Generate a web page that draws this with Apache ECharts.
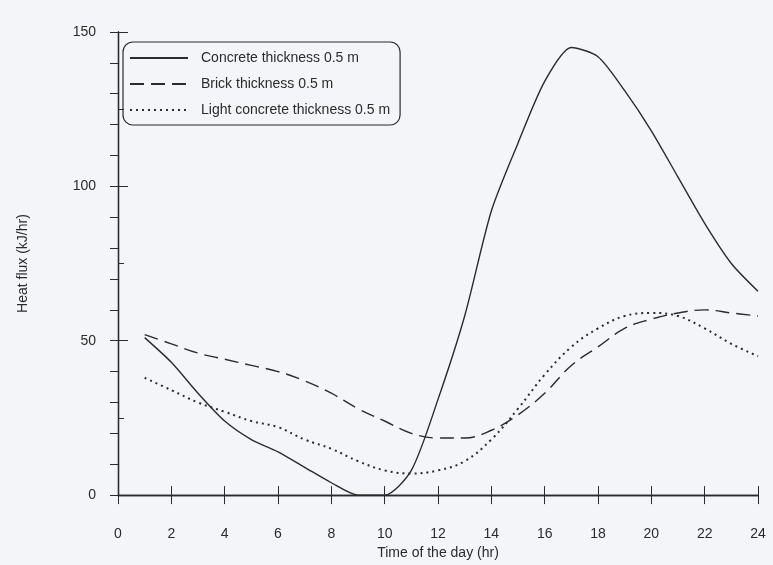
<!DOCTYPE html>
<html>
<head>
<meta charset="utf-8">
<script src="https://cdn.jsdelivr.net/npm/echarts@6/dist/echarts.min.js"></script>
<style>
  html, body { margin: 0; padding: 0; background: #f3f5f8; }
  #chart { width: 773px; height: 565px; }
</style>
</head>
<body>
<div id="chart"></div>
<script>
// hours of the day
var hours = [1, 2, 3, 4, 5, 6, 7, 8, 9, 10, 11, 12, 13, 14, 15, 16, 17, 18, 19, 20, 21, 22, 23, 24];
// heat flux (kJ/hr)
var concrete = [51, 43, 33, 24, 18, 14, 9, 4, 0, 0, 8, 31, 58, 92, 114, 134, 145, 142, 131, 118, 103, 88, 75, 66];
var brick = [52, 49, 46, 44, 42, 40, 37, 33, 28, 24, 20, 18.5, 18.5, 21, 26, 33, 42, 48, 54, 57, 59, 60, 59, 58];
var lightConcrete = [38, 34, 30, 27, 24, 22, 18, 15, 11, 8, 7, 8, 11, 18, 28, 39, 48, 54, 58, 59, 58, 54, 49, 45];

var xTicks = [0, 24, 2];
var yTicks = [0, 150, 50];

function pairs(vals) {
	return hours.map(function (h, i) { return [h, vals[i]]; });
}

var ink = '#2b2b2b';
var font = 'Liberation Sans';

var chart = echarts.init(document.getElementById('chart'));
chart.setOption({
	backgroundColor: '#f3f5f8',
	animation: false,
	textStyle: { fontFamily: font, color: ink },
	grid: { left: 118, right: 15, top: 32, bottom: 65 },
	legend: {
		left: 123,
		top: 42,
		orient: 'vertical',
		itemWidth: 58,
		itemHeight: 10,
		itemGap: 12,
		padding: [9, 10, 8, 6],
		borderColor: ink,
		borderWidth: 1.2,
		borderRadius: 10,
		itemStyle: { opacity: 0 },
		textStyle: { fontSize: 14, color: ink, fontFamily: font, padding: [0, 0, 0, 8] },
		data: ['Concrete thickness 0.5 m', 'Brick thickness 0.5 m', 'Light concrete thickness 0.5 m']
	},
	xAxis: [{
		type: 'value',
		min: xTicks[0], max: xTicks[1], interval: xTicks[2],
		name: 'Time of the day (hr)',
		nameLocation: 'middle',
		nameGap: 44,
		nameTextStyle: { fontSize: 14, color: ink },
		axisLine: { lineStyle: { color: ink, width: 1.3 } },
		axisTick: { inside: true, length: 9, lineStyle: { color: ink } },
		axisLabel: { fontSize: 14, color: ink, margin: 32 },
		splitLine: { show: false }
	}, {
		type: 'value',
		position: 'top',
		min: xTicks[0], max: xTicks[1], interval: xTicks[2],
		axisLine: { show: true, lineStyle: { color: ink, width: 1.3 } },
		axisTick: { inside: true, length: 9, lineStyle: { color: ink } },
		axisLabel: { show: false },
		splitLine: { show: false }
	}],
	yAxis: [{
		type: 'value',
		min: yTicks[0], max: yTicks[1], interval: yTicks[2],
		name: 'Heat flux (kJ/hr)',
		nameLocation: 'middle',
		nameGap: 88,
		nameTextStyle: { fontSize: 14, color: ink },
		axisLine: { show: true, lineStyle: { color: ink, width: 1.3 } },
		axisTick: { inside: true, length: 10, lineStyle: { color: ink } },
		minorTick: { show: true, splitNumber: 2, length: 6, lineStyle: { color: ink } },
		axisLabel: { fontSize: 14, color: ink, margin: 22 },
		splitLine: { show: false }
	}, {
		type: 'value',
		position: 'right',
		min: 0, max: 150, interval: 10,
		axisLine: { show: true, lineStyle: { color: ink, width: 1.3 } },
		axisTick: { inside: true, length: 8, lineStyle: { color: ink } },
		axisLabel: { show: false },
		splitLine: { show: false }
	}],
	series: [{
		name: 'Concrete thickness 0.5 m',
		type: 'line',
		data: pairs(concrete),
		smooth: 0.25,
		symbol: 'none',
		lineStyle: { color: ink, width: 1.4, type: 'solid' },
		itemStyle: { color: ink }
	}, {
		name: 'Brick thickness 0.5 m',
		type: 'line',
		data: pairs(brick),
		smooth: 0.4,
		symbol: 'none',
		lineStyle: { color: ink, width: 1.4, type: [14, 7] },
		itemStyle: { color: ink }
	}, {
		name: 'Light concrete thickness 0.5 m',
		type: 'line',
		data: pairs(lightConcrete),
		smooth: 0.4,
		symbol: 'none',
		lineStyle: { color: ink, width: 2, type: [2, 4] },
		itemStyle: { color: ink }
	}]
});
</script>
</body>
</html>
